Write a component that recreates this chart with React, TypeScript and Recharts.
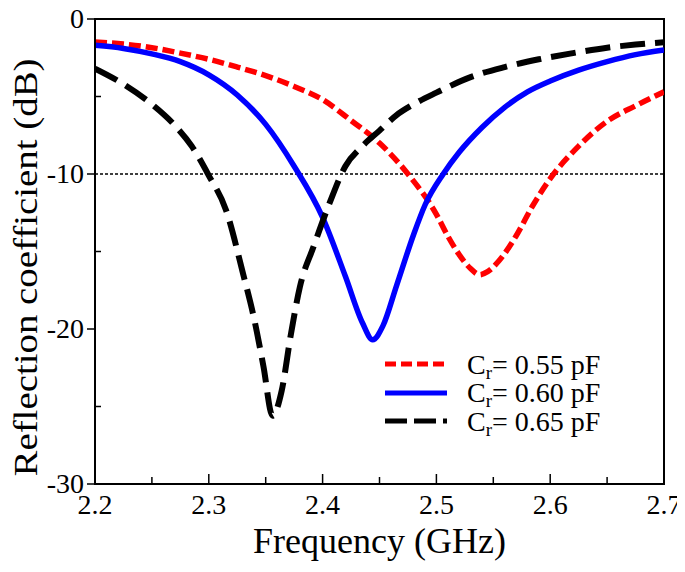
import { LineChart, Line, XAxis, YAxis, ReferenceLine, ReferenceArea, Legend } from 'recharts'

// frequency (GHz) / reflection coefficient (dB)
const freqR055 = [2.2, 2.225, 2.25, 2.275, 2.3, 2.325, 2.35, 2.375, 2.4, 2.425, 2.45, 2.475, 2.5, 2.51, 2.52, 2.53, 2.538, 2.545, 2.555, 2.57, 2.585, 2.6, 2.625, 2.65, 2.675, 2.7]
const s11R055 = [-1.48, -1.62, -1.85, -2.2, -2.6, -3.1, -3.65, -4.35, -5.2, -6.55, -8.0, -10.0, -12.6, -14.0, -15.2, -16.1, -16.5, -16.3, -15.6, -14.0, -12.0, -10.3, -8.2, -6.6, -5.6, -4.7]

const freqR060 = [2.2, 2.225, 2.25, 2.275, 2.3, 2.325, 2.35, 2.375, 2.4, 2.42, 2.435, 2.444, 2.453, 2.465, 2.48, 2.49, 2.506, 2.52, 2.54, 2.56, 2.58, 2.6, 2.625, 2.65, 2.675, 2.7]
const s11R060 = [-1.7, -1.9, -2.25, -2.75, -3.6, -4.9, -6.8, -9.5, -12.8, -16.6, -19.6, -20.7, -19.8, -17.2, -13.9, -12.0, -10.0, -8.6, -7.0, -5.7, -4.7, -4.0, -3.3, -2.75, -2.3, -2.0]

const freqR065 = [2.2, 2.225, 2.25, 2.27, 2.285, 2.3, 2.315, 2.33, 2.34, 2.348, 2.356, 2.364, 2.372, 2.38, 2.392, 2.406, 2.42, 2.435, 2.45, 2.465, 2.48, 2.5, 2.53, 2.56, 2.59, 2.62, 2.65, 2.675, 2.7]
const s11R065 = [-3.2, -4.2, -5.5, -6.85, -8.2, -10.1, -12.3, -16.4, -19.4, -22.4, -25.6, -24.0, -20.4, -17.3, -14.7, -11.9, -9.5, -8.2, -7.2, -6.2, -5.5, -4.75, -3.75, -3.1, -2.6, -2.2, -1.85, -1.65, -1.5]

const xTicks = [2.2, 2.25, 2.3, 2.35, 2.4, 2.45, 2.5, 2.55, 2.6, 2.65, 2.7]
const yTicks = [0, -5, -10, -15, -20, -25, -30]

const seriesNames = ['0.55', '0.60', '0.65']

const FONT = '"Liberation Serif", "Times New Roman", Times, serif'

const toPoints = (xs: number[], ys: number[]) => xs.map((f, i) => ({ f, v: ys[i] }))

const series = [
  { key: 'r055', data: toPoints(freqR055, s11R055), color: '#ff0000', width: 5.5, dash: '12 5', legendDash: '11 5', name: seriesNames[0] },
  { key: 'r060', data: toPoints(freqR060, s11R060), color: '#0000ff', width: 5.5, dash: undefined, legendDash: undefined, name: seriesNames[1] },
  { key: 'r065', data: toPoints(freqR065, s11R065), color: '#000000', width: 6, dash: '25 10', legendDash: '22 7', name: seriesNames[2] },
]

function XTick(props: any) {
  const { x, y, payload } = props
  const major = Math.round(payload.value * 100) % 10 === 0
  return (
    <g>
      <line x1={x} y1={y} x2={x} y2={y - (major ? 10 : 7)} stroke="#000" strokeWidth={1.5} />
      {major && (
        <text x={x} y={y + 30} textAnchor="middle" style={{ fontFamily: FONT, fontSize: 28 }} fill="#000">
          {payload.value.toFixed(1)}
        </text>
      )}
    </g>
  )
}

function YTick(props: any) {
  const { x, y, payload } = props
  const major = payload.value % 10 === 0
  return (
    <g>
      {major
        ? <line x1={x - 8} y1={y} x2={x} y2={y} stroke="#000" strokeWidth={1.5} />
        : <line x1={x} y1={y} x2={x + 6} y2={y} stroke="#000" strokeWidth={1.5} />}
      {major && (
        <text x={x - 11} y={y + 9} textAnchor="end" style={{ fontFamily: FONT, fontSize: 28 }} fill="#000">
          {payload.value}
        </text>
      )}
    </g>
  )
}

function LegendBox() {
  return (
    <div style={{ fontFamily: FONT, fontSize: 28, color: '#000', lineHeight: '29px' }}>
      {series.map((s) => (
        <div key={s.key} style={{ display: 'flex', alignItems: 'center', height: 28.5 }}>
          <svg width={62} height={10} style={{ marginRight: 20, flexShrink: 0 }}>
            <line x1={0} y1={5} x2={62} y2={5} stroke={s.color} strokeWidth={5} strokeDasharray={s.legendDash} />
          </svg>
          <span style={{ whiteSpace: 'nowrap' }}>
            C<sub style={{ fontSize: 19, verticalAlign: '-5px', lineHeight: 0 }}>r</sub>= {s.name} pF
          </span>
        </div>
      ))}
    </div>
  )
}

export default function App() {
  return (
    <>
      {/* let tick labels near the edge spill over the svg box instead of being clipped */}
      <style>{'.recharts-surface { overflow: visible; }'}</style>
      <LineChart width={677} height={556} margin={{ top: 11, right: 21, left: 0, bottom: 0 }}>
        <ReferenceArea x1={2.2} x2={2.7} y1={-30} y2={0} fill="none" stroke="#000" strokeWidth={2} />
        <XAxis
          dataKey="f"
          type="number"
          domain={[2.2, 2.7]}
          ticks={xTicks}
          allowDataOverflow
          height={80}
          tickSize={0}
          tickMargin={0}
          tick={<XTick />}
          axisLine={{ stroke: '#000', strokeWidth: 2 }}
          label={({ viewBox }: any) => (
            <text
              x={viewBox.x + viewBox.width / 2}
              y={viewBox.y + 69}
              textAnchor="middle"
              style={{ fontFamily: FONT, fontSize: 36 }}
              fill="#000"
            >
              Frequency (GHz)
            </text>
          )}
        />
        <YAxis
          type="number"
          domain={[-30, 0]}
          ticks={yTicks}
          allowDataOverflow
          width={87}
          tickSize={0}
          tickMargin={0}
          tick={<YTick />}
          axisLine={{ stroke: '#000', strokeWidth: 2 }}
          label={({ viewBox }: any) => {
            const cx = 17
            const cy = viewBox.y + viewBox.height / 2 + 16
            return (
              <text
                x={cx}
                y={cy}
                transform={`rotate(-90 ${cx} ${cy})`}
                textAnchor="middle"
                dominantBaseline="central"
                textLength={418}
                lengthAdjust="spacingAndGlyphs"
                style={{ fontFamily: FONT, fontSize: 34 }}
                fill="#000"
              >
                Reflection coefficient (dB)
              </text>
            )
          }}
        />
        <ReferenceLine y={-10} stroke="#000" strokeWidth={1.3} strokeDasharray="3 2" />
        {series.map((s) => (
          <Line
            key={s.key}
            data={s.data}
            dataKey="v"
            type="monotone"
            stroke={s.color}
            strokeWidth={s.width}
            strokeDasharray={s.dash}
            dot={false}
            activeDot={false}
            isAnimationActive={false}
          />
        ))}
        <Legend
          layout="vertical"
          align="center"
          verticalAlign="middle"
          content={() => <LegendBox />}
          wrapperStyle={{ left: 377, top: 342, width: 'auto', height: 'auto' }}
        />
      </LineChart>
    </>
  )
}
